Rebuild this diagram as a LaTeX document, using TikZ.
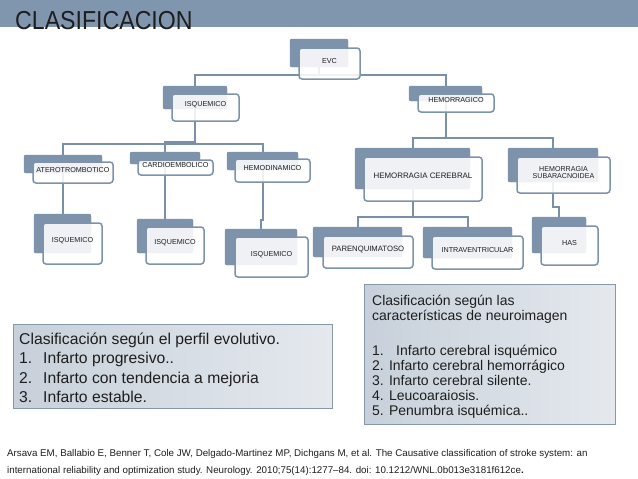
\documentclass[tikz,border=0pt]{standalone}
\usepackage{fontspec}
\setmainfont{Liberation Sans}
\usetikzlibrary{fit}
\definecolor{barcol}{HTML}{7F96AE}
\definecolor{backcol}{HTML}{7D93AC}
\definecolor{linecol}{HTML}{7A8FA8}
\definecolor{boxline}{HTML}{8797AC}
\definecolor{boxleft}{HTML}{C7D0DA}
\definecolor{boxright}{HTML}{E5E9EE}
\definecolor{txtcol}{HTML}{1E1E1E}
\tikzset{
  backbox/.style={fill=backcol, draw=none, rounded corners=2pt, inner sep=0pt},
  frontbox/.style={fill=white, fill opacity=0.88, text opacity=1, draw=backcol, line width=1.5pt,
     rounded corners=3pt, inner sep=0pt, text=txtcol, font=\fontsize{7.2}{7.4}\selectfont, align=center},
  conn/.style={draw=linecol, line width=2pt},
  infobox/.style={draw=boxline, line width=0.9pt, left color=boxleft, right color=boxright, inner sep=0pt},
  ltxt/.style={anchor=base west, inner sep=0pt, text=txtcol, font=\fontsize{15.7}{19.5}\selectfont},
  rtxt/.style={anchor=base west, inner sep=0pt, text=txtcol, font=\fontsize{14}{15}\selectfont},
  ctxt/.style={anchor=base west, inner sep=0pt, text=txtcol, font=\fontsize{9.75}{12}\selectfont},
}
\begin{document}
\begin{tikzpicture}[x=1pt,y=-1pt]
\useasboundingbox (0,0) rectangle (638,479);
\fill[barcol] (0,0) rectangle (638,27);
\node[anchor=base west, inner sep=0pt, text=txtcol, font=\fontsize{26}{26}\selectfont] (title) at (15,30) {\scalebox{0.89}[1]{CLASIFICACION}};

% junction levels
\coordinate (j1) at (0,75);
\coordinate (j2) at (0,144);
\coordinate (j2c) at (0,142);
\coordinate (j2h) at (0,138);
\coordinate (j3) at (0,200);
\coordinate (j3c) at (0,220);
\coordinate (j3h) at (0,217);
\coordinate (j3s) at (0,207);

% back boxes
\node[backbox, fit={(290,39) (348,67)}] (evcb) {};
\node[backbox, fit={(163,86) (227,109)}] (isqb) {};
\node[backbox, fit={(409,86) (482,101)}] (hemb) {};
\node[backbox, fit={(24,155) (102,173)}] (aterob) {};
\node[backbox, fit={(130,152) (200,164)}] (cardiob) {};
\node[backbox, fit={(227,152) (298,170)}] (hemodb) {};
\node[backbox, fit={(34,214) (91,253)}] (isqab) {};
\node[backbox, fit={(137,219) (193,253)}] (isqbb) {};
\node[backbox, fit={(225,229) (297,265)}] (isqcb) {};
\node[backbox, fit={(355,148) (470,189)}] (hcerb) {};
\node[backbox, fit={(508,148) (598,182)}] (subarb) {};
\node[backbox, fit={(313,227) (402,257)}] (parenb) {};
\node[backbox, fit={(423,227) (512,258)}] (intravb) {};
\node[backbox, fit={(532,217) (586,253)}] (hasb) {};

% connectors
\draw[conn] (evcb.center) -- (evcb.center |- j1) -| (isqb.center);
\draw[conn] (evcb.center) -- (evcb.center |- j1) -| (hemb.center);
\draw[conn] (isqb.center) -- (isqb.center |- j2) -| (aterob.center);
\draw[conn] (isqb.center) -- (isqb.center |- j2c) -| (cardiob.center);
\draw[conn] (isqb.center) -- (isqb.center |- j2) -| (hemodb.center);
\draw[conn] (aterob.center) -- (aterob.center |- j3) -| (isqab.center);
\draw[conn] (cardiob.center) -- (cardiob.center |- j3) -| (isqbb.center);
\draw[conn] (hemodb.center) -- (hemodb.center |- j3c) -| (isqcb.center);
\draw[conn] (hemb.center) -- (hemb.center |- j2h) -| (hcerb.center);
\draw[conn] (hemb.center) -- (hemb.center |- j2h) -| (subarb.center);
\draw[conn] (hcerb.center) -- (hcerb.center |- j3h) -| (parenb.center);
\draw[conn] (hcerb.center) -- (hcerb.center |- j3h) -| (intravb.center);
\draw[conn] (subarb.center) -- (subarb.center |- j3s) -| (hasb.center);

% redraw back boxes over connector ends
\foreach \b in {evcb,isqb,hemb,aterob,cardiob,hemodb,isqab,isqbb,isqcb,hcerb,subarb,parenb,intravb,hasb}{
  \fill[backcol, rounded corners=2pt] (\b.north west) rectangle (\b.south east);
}

% front boxes
\node[frontbox, fit={(299,48) (360,79)}] (evc) {EVC};
\node[frontbox, fit={(172,94) (239,121)}] (isq) {ISQUEMICO};
\node[frontbox, fit={(418,94) (494,112)}] (hem) {HEMORRAGICO};
\node[frontbox, fit={(33,162) (113,183)}] (atero) {ATEROTROMBOTICO};
\node[frontbox, fit={(138,160) (213,175)}] (cardio) {CARDIOEMBOLICO};
\node[frontbox, fit={(235,159) (310,182)}] (hemod) {HEMODINAMICO};
\node[frontbox, fit={(43,223) (102,264)}] (isqa) {ISQUEMICO};
\node[frontbox, fit={(146,227) (204,264)}] (isqbx) {ISQUEMICO};
\node[frontbox, fit={(235,237) (308,277)}] (isqc) {ISQUEMICO};
\node[frontbox, fit={(364,157) (482,201)}, font=\fontsize{7.9}{8}\selectfont] (hcer) {HEMORRAGIA CEREBRAL};
\node[frontbox, fit={(517,157) (610,193)}, font=\fontsize{7.1}{6.8}\selectfont] (subar) {HEMORRAGIA\\SUBARACNOIDEA};
\node[frontbox, fit={(323,236) (413,268)}, font=\fontsize{7.7}{8}\selectfont] (paren) {PARENQUIMATOSO};
\node[frontbox, fit={(432,236) (523,269)}] (intrav) {INTRAVENTRICULAR};
\node[frontbox, fit={(541,226) (598,265)}] (has) {HAS};

% info boxes
\node[infobox, fit={(13,324) (332,408)}] (lbox) {};
\node[ltxt] (l1) at (19,344) {Clasificación según el perfil evolutivo.};
\node[ltxt] (l2) at (19,363.5) {\makebox[24pt][l]{1.}Infarto progresivo..};
\node[ltxt] (l3) at (19,383) {\makebox[24pt][l]{2.}Infarto con tendencia a mejoria};
\node[ltxt] (l4) at (19,402.5) {\makebox[24pt][l]{3.}Infarto estable.};

\node[infobox, fit={(364,284) (615,424)}] (rbox) {};
\node[rtxt] (r1) at (372,305) {Clasificación según las};
\node[rtxt] (r2) at (372,320) {características de neuroimagen};
\node[rtxt] (r3) at (372,355) {\makebox[24pt][l]{1.}Infarto cerebral isquémico};
\node[rtxt] (r4) at (372,370) {2. Infarto cerebral hemorrágico};
\node[rtxt] (r5) at (372,385) {3. Infarto cerebral silente.};
\node[rtxt] (r6) at (372,400) {4. Leucoaraiosis.};
\node[rtxt] (r7) at (372,415) {5. Penumbra isquémica..};

% citation
\node[ctxt] (c1) at (7,456) {Arsava EM, Ballabio E, Benner T, Cole JW, Delgado-Martinez MP, Dichgans M, et al. The Causative classification of stroke system: an};
\node[ctxt] (c2) at (7,473) {international reliability and optimization study. Neurology. 2010;75(14):1277–84. doi: 10.1212/WNL.0b013e3181f612ce{\bfseries .}};
\end{tikzpicture}
\end{document}
